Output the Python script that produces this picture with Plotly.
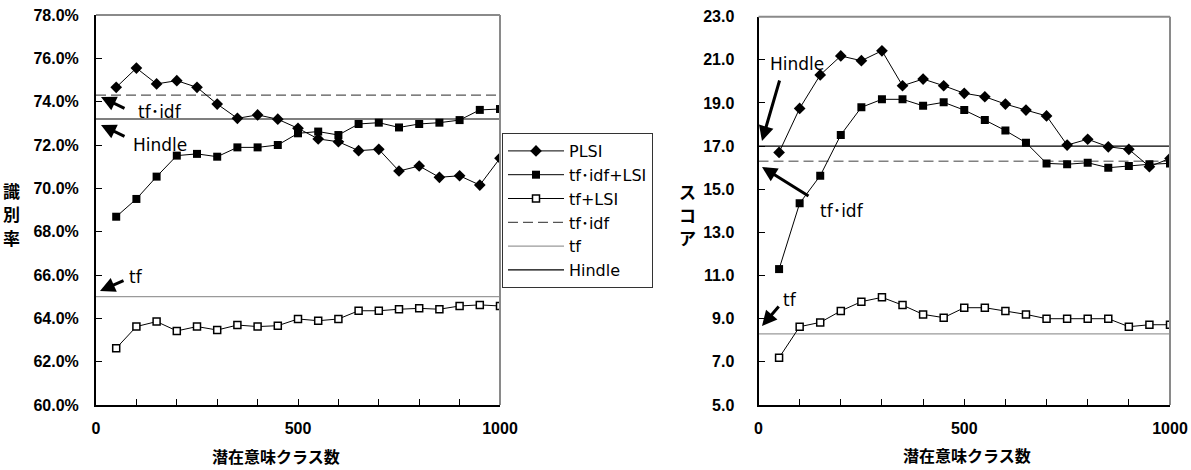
import plotly.graph_objects as go

# ---------------- data ----------------
classes = [50, 100, 150, 200, 250, 300, 350, 400, 450, 500,
           550, 600, 650, 700, 750, 800, 850, 900, 950, 1000]

# left chart: 識別率 (%)
acc_plsi = [74.66, 75.55, 74.82, 74.97, 74.66, 73.89, 73.23, 73.39, 73.19, 72.77,
            72.28, 72.15, 71.74, 71.80, 70.80, 71.03, 70.51, 70.58, 70.15, 71.39]
acc_tfidf_lsi = [68.69, 69.51, 70.54, 71.51, 71.59, 71.46, 71.89, 71.89, 72.00, 72.54,
                 72.62, 72.46, 72.97, 73.03, 72.81, 72.97, 73.03, 73.15, 73.62, 73.66]
acc_tf_lsi = [62.62, 63.62, 63.85, 63.42, 63.62, 63.46, 63.69, 63.62, 63.66, 63.97,
              63.89, 63.97, 64.35, 64.35, 64.42, 64.46, 64.42, 64.57, 64.62, 64.57]
acc_tfidf = 74.3
acc_tf = 65.0
acc_hindle = 73.2

# right chart: スコア
sc_plsi = [16.71, 18.75, 20.30, 21.18, 20.96, 21.42, 19.80, 20.11, 19.80, 19.45,
           19.29, 18.95, 18.67, 18.40, 17.05, 17.32, 16.97, 16.85, 16.05, 16.43]
sc_tfidf_lsi = [11.30, 14.35, 15.63, 17.52, 18.80, 19.17, 19.17, 18.87, 19.03, 18.67,
                18.21, 17.72, 17.16, 16.20, 16.16, 16.23, 16.00, 16.08, 16.16, 16.20]
sc_tf_lsi = [7.19, 8.63, 8.83, 9.36, 9.79, 9.99, 9.63, 9.20, 9.05, 9.51,
             9.51, 9.36, 9.20, 9.00, 9.00, 9.00, 9.00, 8.63, 8.72, 8.72]
sc_tfidf = 16.3
sc_tf = 8.3
sc_hindle = 17.0

x_span = [0, 1000]
x_tickvals = [0, 100, 200, 300, 400, 500, 600, 700, 800, 900, 1000]
x_ticktext = ["0", "", "", "", "", "500", "", "", "", "", "1000"]

names = ["PLSI", "tf･idf+LSI", "tf+LSI", "tf･idf", "tf", "Hindle"]

FONT = "Liberation Sans, Arial, Noto Sans CJK JP"
LFONT = "DejaVu Sans, Noto Sans CJK JP"
CJK = "Noto Sans CJK JP"

fig = go.Figure()


def add_set(xa, ya, plsi, tfidf_lsi, tf_lsi, tfidf, tf, hindle, show, dash_col):
    fig.add_trace(go.Scatter(x=x_span, y=[tfidf, tfidf], mode="lines", name=names[3],
                             line=dict(color=dash_col, width=1.3, dash="10px,5px"),
                             xaxis=xa, yaxis=ya, showlegend=show, legendrank=4))
    fig.add_trace(go.Scatter(x=x_span, y=[tf, tf], mode="lines", name=names[4],
                             line=dict(color="#9a9a9a", width=1.3),
                             xaxis=xa, yaxis=ya, showlegend=show, legendrank=5))
    fig.add_trace(go.Scatter(x=x_span, y=[hindle, hindle], mode="lines", name=names[5],
                             line=dict(color="black", width=1.2),
                             xaxis=xa, yaxis=ya, showlegend=show, legendrank=6))
    fig.add_trace(go.Scatter(x=classes, y=plsi, mode="lines+markers", name=names[0],
                             line=dict(color="black", width=1),
                             marker=dict(symbol="diamond", size=9, color="black"),
                             xaxis=xa, yaxis=ya, showlegend=show, legendrank=1))
    fig.add_trace(go.Scatter(x=classes, y=tfidf_lsi, mode="lines+markers", name=names[1],
                             line=dict(color="black", width=1),
                             marker=dict(symbol="square", size=8, color="black"),
                             xaxis=xa, yaxis=ya, showlegend=show, legendrank=2))
    fig.add_trace(go.Scatter(x=classes, y=tf_lsi, mode="lines+markers", name=names[2],
                             line=dict(color="black", width=1),
                             marker=dict(symbol="square", size=7, color="white",
                                         line=dict(color="black", width=1.5)),
                             xaxis=xa, yaxis=ya, showlegend=show, legendrank=3))


add_set("x", "y", acc_plsi, acc_tfidf_lsi, acc_tf_lsi, acc_tfidf, acc_tf, acc_hindle, True, "#555555")
add_set("x2", "y2", sc_plsi, sc_tfidf_lsi, sc_tf_lsi, sc_tfidf, sc_tf, sc_hindle, False, "#808080")

W, H = 1191, 470
L1, R1 = 96 / W, 500 / W
L2, R2 = 758.5 / W, 1170 / W
T1, B1 = 1 - 15 / H, 1 - 405 / H
T2, B2 = 1 - 16.7 / H, 1 - 405 / H

xcommon = dict(range=[0, 1000], tickvals=x_tickvals, ticktext=x_ticktext,
               ticks="inside", ticklen=6, tickwidth=1.2, tickcolor="black",
               showline=True, linecolor="black", linewidth=2, showgrid=False,
               zeroline=False, automargin=False,
               tickfont=dict(family=FONT, size=16, color="black", weight="bold"),
               ticklabelstandoff=8)
ycommon = dict(ticks="inside", ticklen=6, tickwidth=1.2, tickcolor="black",
               showline=True, linecolor="black", linewidth=2, showgrid=False,
               zeroline=False, automargin=False,
               tickfont=dict(family=FONT, size=16, color="black", weight="bold"))

fig.update_layout(
    width=W, height=H,
    margin=dict(l=0, r=0, t=0, b=0),
    paper_bgcolor="white", plot_bgcolor="white",
    font=dict(family=FONT, color="black"),
    xaxis=dict(domain=[L1, R1], anchor="y", **xcommon),
    yaxis=dict(domain=[B1, T1], anchor="x", range=[60, 78], tick0=60, dtick=2,
               tickformat=".1f", ticksuffix="%", ticklabelstandoff=12, **ycommon),
    xaxis2=dict(domain=[L2, R2], anchor="y2", **xcommon),
    yaxis2=dict(domain=[B2, T2], anchor="x2", range=[5, 23], tick0=5, dtick=2,
                tickformat=".1f", ticklabelstandoff=19, **ycommon),
    legend=dict(x=502 / W, y=1 - 133 / H, xanchor="left", yanchor="top",
                bgcolor="white", bordercolor="#333333", borderwidth=1,
                font=dict(family=LFONT, size=16, color="black"),
                traceorder="normal", tracegroupgap=0, itemwidth=56),
    showlegend=True,
)

# gray top/right frame
shapes = []
for xr, yr in (("x domain", "y domain"), ("x2 domain", "y2 domain")):
    shapes.append(dict(type="line", xref=xr, yref=yr, x0=0, x1=1, y0=1, y1=1,
                       line=dict(color="#8a8a8a", width=2)))
    shapes.append(dict(type="line", xref=xr, yref=yr, x0=1, x1=1, y0=0, y1=1,
                       line=dict(color="#8a8a8a", width=2)))
fig.update_layout(shapes=shapes)

ann = []


def px_ann(text, x, y, size=17, bold=False, font=FONT):
    ann.append(dict(text=text, xref="paper", yref="paper", x=x / W, y=1 - y / H,
                    showarrow=False, xanchor="center", yanchor="middle",
                    font=dict(family=font, size=size, color="black",
                              weight="bold" if bold else "normal")))


def arrow_ann(text, tx, ty, ax, ay, hx, hy, size=17):
    px_ann(text, tx, ty, size=size, font=LFONT)
    ann.append(dict(text="", xref="paper", yref="paper", x=hx / W, y=1 - hy / H,
                    axref="pixel", ayref="pixel", ax=ax - hx, ay=ay - hy,
                    showarrow=True, arrowhead=2, arrowsize=1, arrowwidth=3,
                    arrowcolor="black", standoff=0))


# axis titles
px_ann("潜在意味クラス数", 276, 456, size=16, bold=True, font=CJK)
px_ann("潜在意味クラス数", 967, 455, size=16, bold=True, font=CJK)
for ch, yy in zip("識別率", (190, 213, 237)):
    px_ann(ch, 11, yy, size=17, bold=True, font=CJK)
for ch, yy in zip("スコア", (192, 215, 237)):
    px_ann(ch, 687, yy, size=17, bold=True, font=CJK)

# left chart callouts
arrow_ann("tf･idf", 160, 112, 126, 109, 101, 97)
arrow_ann("Hindle", 160, 145, 126, 137, 101, 125)
arrow_ann("tf", 136, 277, 125, 280, 100, 291)
# right chart callouts
arrow_ann("Hindle", 797, 64, 780, 79, 762, 141)
arrow_ann("tf･idf", 842, 211, 810, 197, 762, 167)
arrow_ann("tf", 790, 300, 780, 305, 762, 326)

fig.update_layout(annotations=ann)

fig.write_html("out.html", config={"displayModeBar": False},
               post_script="document.body.style.margin='0';document.body.style.overflow='hidden';")
